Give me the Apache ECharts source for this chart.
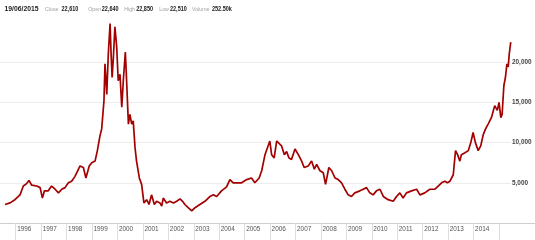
<!DOCTYPE html>
<html><head><meta charset="utf-8">
<script src="https://cdn.jsdelivr.net/npm/echarts@6/dist/echarts.min.js"></script>
<style>html,body{margin:0;padding:0;background:#fff}#c{width:535px;height:240px}</style>
</head><body><div id="c"></div>
<script>
// decimal years
const years = [
1995.58,1995.78,1995.97,1996.17,1996.30,1996.43,1996.52,1996.63,1996.83,1996.96,
1997.05,1997.13,1997.28,1997.41,1997.55,1997.68,1997.81,1997.94,1998.07,1998.20,
1998.33,1998.53,1998.66,1998.76,1998.89,1998.99,1999.12,1999.21,1999.31,1999.38,
1999.47,1999.51,1999.58,1999.64,1999.71,1999.75,1999.79,1999.84,1999.90,1999.97,
2000.03,2000.10,2000.17,2000.23,2000.31,2000.36,2000.43,2000.49,2000.56,2000.62,
2000.69,2000.75,2000.86,2000.95,2001.04,2001.15,2001.24,2001.34,2001.45,2001.54,
2001.67,2001.74,2001.80,2001.93,2002.06,2002.20,2002.33,2002.46,2002.56,2002.65,
2002.78,2002.92,2003.05,2003.24,2003.44,2003.64,2003.77,2003.90,2004.09,2004.29,
2004.42,2004.55,2004.75,2004.88,2005.08,2005.27,2005.40,2005.57,2005.67,2005.80,
2005.99,2006.06,2006.16,2006.26,2006.32,2006.45,2006.56,2006.65,2006.74,2006.84,
2006.98,2007.11,2007.24,2007.34,2007.50,2007.63,2007.74,2007.83,2007.96,2008.09,
2008.18,2008.31,2008.42,2008.55,2008.68,2008.81,2008.94,2009.07,2009.20,2009.33,
2009.53,2009.66,2009.79,2009.92,2010.05,2010.18,2010.32,2010.45,2010.64,2010.84,
2010.97,2011.10,2011.23,2011.36,2011.56,2011.76,2011.89,2012.08,2012.28,2012.48,
2012.61,2012.74,2012.87,2012.97,2013.07,2013.20,2013.29,2013.37,2013.46,2013.52,
2013.66,2013.79,2013.89,2013.98,2014.07,2014.18,2014.28,2014.38,2014.47,2014.57,
2014.70,2014.83,2014.93,2015.00,2015.07,2015.12,2015.19,2015.25,2015.31,2015.36,
2015.40,2015.44,2015.46
];
const prices = [
2300,2500,2900,3500,4600,4900,5300,4700,4600,4400,
3100,4000,4000,4600,4200,3750,4200,4400,5000,5200,
5800,7100,6900,5600,7100,7500,7700,9000,10800,11700,
15200,19800,16000,21000,24800,21000,18100,20600,24400,21900,
17700,18500,14400,17700,21250,17700,12300,13500,12300,12700,
9400,7700,5600,4800,2500,2900,2300,3500,2300,2700,
2500,2100,3100,2500,2700,2500,2700,3000,2700,2300,
1900,1500,1900,2300,2700,3300,3500,3300,4000,4500,
5400,5000,5000,5000,5400,5600,5000,5600,6500,8500,
10200,8500,8100,10200,10400,9600,8500,8900,8100,7900,
9200,8500,7700,6900,7100,7700,6700,7300,6500,6250,
4800,6900,6500,5600,5400,5000,4200,3500,3300,3750,
4000,4200,4400,3750,3500,4000,4200,3300,2900,2700,
3300,3750,3100,3750,4000,4200,3500,3750,4200,4200,
4600,5000,5200,5000,5200,6000,9000,8500,7700,8500,
8750,9000,10000,11250,10000,9000,9600,11000,11700,12300,
13100,14600,14000,15000,13100,13500,17100,18100,19800,19400,
21000,21000,22500
];
const yearTicks = [1996,1997,1998,1999,2000,2001,2002,2003,2004,2005,2006,2007,2008,2009,2010,2011,2012,2013,2014,2015];
const yearLabels = [1996,1997,1998,1999,2000,2001,2002,2003,2004,2005,2006,2007,2008,2009,2010,2011,2012,2013,2014];
const headerTexts = ['19/06/2015','Close','22,610','Open','22,640','High','22,850','Low','22,510','Volume','252.50k'];
const headerKinds = ['d','l','v','l','v','l','v','l','v','l','v'];

// layout
const headerX = [4.5,45,61.5,88.2,101.8,124.2,136.2,159.2,170,192,212];
const FONT = '"Liberation Sans", Arial, sans-serif';
const headerStyle = {
  d:{s:{fontSize:6.8, fontWeight:'bold', fill:'#222'}, sx:1},
  l:{s:{fontSize:6.2, fontWeight:'normal', fill:'#a0a0a0'}, sx:0.85},
  v:{s:{fontSize:6.4, fontWeight:'bold', fill:'#222'}, sx:0.86}
};
const graphics = headerTexts.map((t,i)=>{
  const h = headerStyle[headerKinds[i]];
  return {type:'text', x: headerX[i], y: 9.5, scaleX: h.sx,
    style:Object.assign({text:t, fontFamily:FONT, textAlign:'left', textVerticalAlign:'middle'}, h.s)};
});
graphics.push({type:'line', shape:{x1:0,y1:223.5,x2:535,y2:223.5}, style:{stroke:'#cfcfcf',lineWidth:1}, z:-1});

const chart = echarts.init(document.getElementById('c'), null, {renderer:'canvas'});
chart.setOption({
  animation:false,
  grid:{left:0, right:24, top:22, bottom:17, containLabel:false},
  xAxis:{type:'value', min:1995.383, max:2015.47,
    axisLine:{show:true, lineStyle:{color:'#cfcfcf'}},
    axisTick:{show:true, customValues:yearTicks, length:17, inside:false, lineStyle:{color:'#dedede'}},
    axisLabel:{show:true, customValues:yearLabels, align:'left', margin:3, padding:[0,0,0,1.5],
      fontFamily:FONT, fontSize:6.4, color:'#555', formatter:v=>String(Math.round(v))},
    splitLine:{show:false}},
  yAxis:{type:'value', position:'right', min:0, max:25000, interval:5000,
    axisLine:{show:false}, axisTick:{show:false},
    axisLabel:{show:true, margin:1, fontFamily:FONT, fontSize:6.4, fontWeight:'bold', color:'#444',
      showMinLabel:false, showMaxLabel:false,
      formatter:v=> v===0||v===25000 ? '' : v.toLocaleString('en-US')},
    splitLine:{show:true, showMinLine:false, showMaxLine:false, lineStyle:{color:'#ececec', width:1}}},
  series:[{type:'line', data: years.map((y,i)=>[y,prices[i]]), symbol:'none',
    lineStyle:{color:'#a30000', width:1.7}, z:3}],
  graphic: graphics
});
</script></body></html>
